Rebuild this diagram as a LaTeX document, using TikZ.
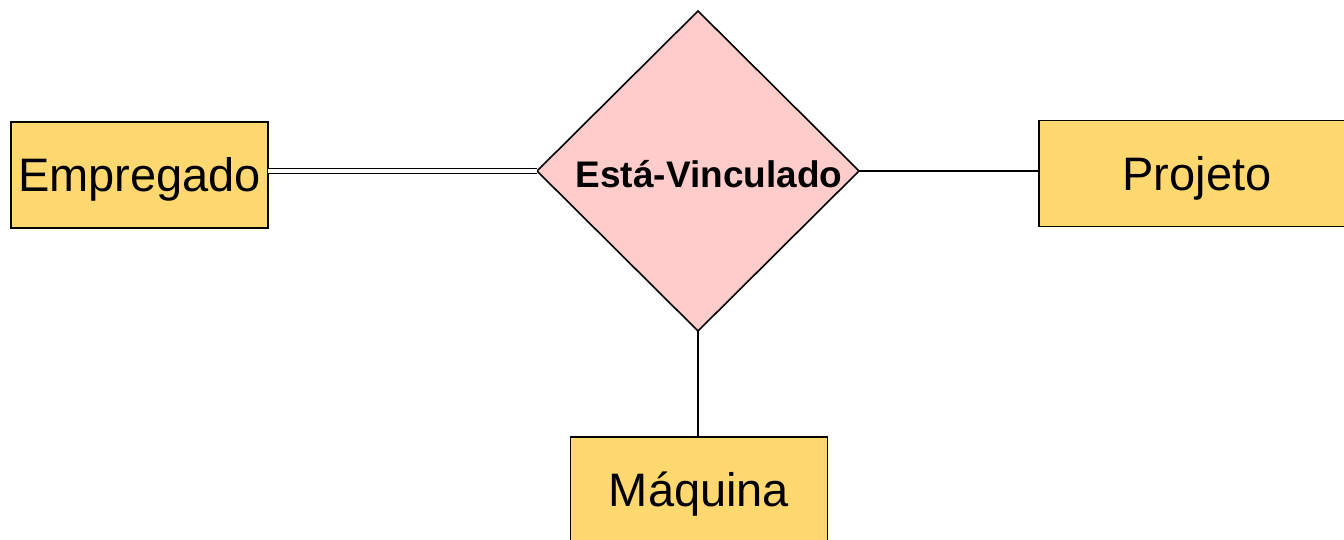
\documentclass[tikz,border=0pt]{standalone}
\usepackage{fontspec}
\setmainfont{Liberation Sans}
\usetikzlibrary{shapes.geometric}
\definecolor{entfill}{HTML}{FFD96F}
\definecolor{relfill}{HTML}{FFCCCC}

\begin{document}
\begin{tikzpicture}[x=1pt,y=-1pt,line width=1.6pt,
  entity/.style={draw,fill=entfill,minimum width=257pt,minimum height=106pt,inner sep=0pt,outer sep=0pt,
    text height=33.6pt,text depth=0pt,font=\fontsize{47}{50}\selectfont},
  relation/.style={draw,fill=relfill,shape=diamond,minimum width=322pt,minimum height=320pt,inner sep=0pt,outer sep=0pt}]
\useasboundingbox (0,0) rectangle (1344,540);
\clip (0,0) rectangle (1344,540);
\node[relation] (rel) at (698,171) {};
\node[font=\bfseries\fontsize{37}{40}\selectfont,text height=26.5pt,text depth=0pt,inner sep=0pt] (rellabel) at (709,174) {Está-Vinculado};
\node[entity] (emp) at (139.5,175) {Empregado};
\node[entity,minimum width=316pt] (proj) at (1197,173.5) {Projeto};
\node[entity] (maq) at (699,490) {Máquina};
\draw[double,line width=1.3pt,double distance=3.6pt] (rel.west) -- (rel.west -| emp.east);
\draw (rel.east) -- (rel.east -| proj.west);
\draw (rel.south) -- (rel.south |- maq.north);
\end{tikzpicture}
\end{document}
